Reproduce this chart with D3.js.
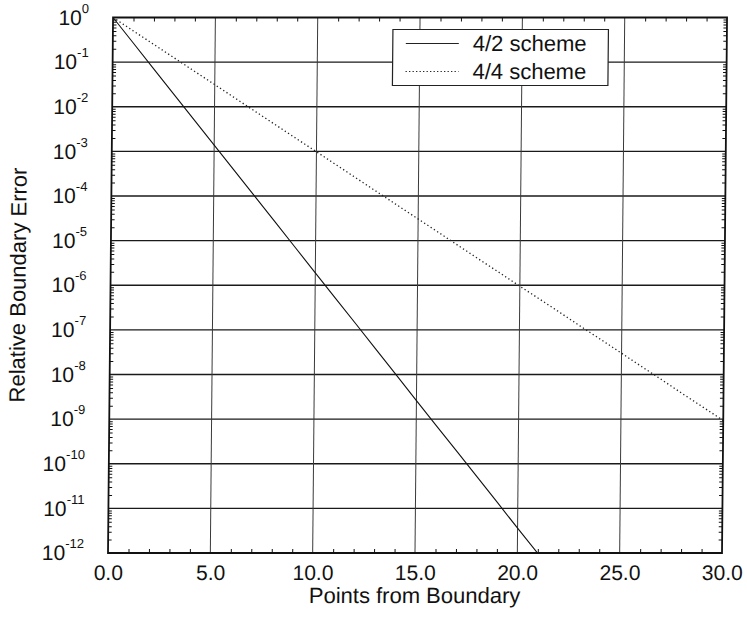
<!DOCTYPE html>
<html>
<head>
<meta charset="utf-8">
<script src="https://cdn.jsdelivr.net/npm/d3@7"></script>
<style>
  body { margin: 0; background: #fff; }
  text { font-family: "Liberation Sans", Arial, Helvetica, sans-serif; fill: #111; }
</style>
</head>
<body>
<svg id="chart" width="747" height="623"></svg>
<script>
// Relative boundary error versus distance (in grid points) from the boundary
const points42 = [0, 1, 2, 3, 4, 5, 6, 7, 8, 9, 10, 11, 12, 13, 14, 15, 16, 17, 18, 19, 20, 21];
const error42 = [1, 2.68e-1, 7.18e-2, 1.92e-2, 5.15e-3, 1.38e-3, 3.70e-4, 9.9e-5, 2.66e-5, 7.1e-6,
                 1.9e-6, 5.1e-7, 1.37e-7, 3.67e-8, 9.8e-9, 2.6e-9, 7.0e-10, 1.9e-10, 5.1e-11, 1.36e-11,
                 3.6e-12, 9.8e-13];
const points44 = [0, 1, 2, 3, 4, 5, 6, 7, 8, 9, 10, 11, 12, 13, 14, 15, 16, 17, 18, 19, 20,
                  21, 22, 23, 24, 25, 26, 27, 28, 29, 30];
const error44 = [1, 5.0e-1, 2.5e-1, 1.25e-1, 6.25e-2, 3.13e-2, 1.56e-2, 7.8e-3, 3.9e-3, 1.95e-3,
                 9.8e-4, 4.9e-4, 2.44e-4, 1.22e-4, 6.1e-5, 3.05e-5, 1.53e-5, 7.6e-6, 3.8e-6, 1.91e-6,
                 9.5e-7, 4.8e-7, 2.4e-7, 1.19e-7, 6.0e-8, 3.0e-8, 1.49e-8, 7.5e-9, 3.7e-9, 1.86e-9,
                 9.3e-10];
const seriesNames = ["4/2 scheme", "4/4 scheme"];
const xTickValues = [0, 5, 10, 15, 20, 25, 30];
const xTickLabels = ["0.0", "5.0", "10.0", "15.0", "20.0", "25.0", "30.0"];
const yDecades = [0, -1, -2, -3, -4, -5, -6, -7, -8, -9, -10, -11, -12];
const xTitle = "Points from Boundary";
const yTitle = "Relative Boundary Error";

const m = { left: 108, right: 722, top: 17.5, bottom: 553 };
const svg = d3.select("#chart");

// whole figure carries a slight slant
const g = svg.append("g")
  .attr("transform", `translate(0,${m.bottom}) skewX(-0.54) translate(0,${-m.bottom})`);

const x = d3.scaleLinear().domain([0, 30]).range([m.left, m.right]);
const y = d3.scaleLog().domain([1e-12, 1]).range([m.bottom, m.top]);

// grid
g.append("g").selectAll("line").data(yDecades.slice(1, -1)).join("line")
  .attr("x1", m.left).attr("x2", m.right)
  .attr("y1", d => y(Math.pow(10, d))).attr("y2", d => y(Math.pow(10, d)))
  .attr("stroke", "#1a1a1a").attr("stroke-width", 1.3);
g.append("g").selectAll("line").data(xTickValues.slice(1, -1)).join("line")
  .attr("x1", d => x(d)).attr("x2", d => x(d))
  .attr("y1", m.top).attr("y2", m.bottom)
  .attr("stroke", "#3a3a3a").attr("stroke-width", 1);

// minor ticks
const minorX = d3.range(0, 31).filter(v => v % 5 !== 0);
const minorY = [];
yDecades.slice(1).forEach(d => { for (let k = 2; k <= 9; k++) minorY.push(k * Math.pow(10, d)); });

function styleAxis(sel) {
  sel.select(".domain").remove();
  sel.selectAll(".tick line").attr("stroke", "#111").attr("stroke-width", 1);
}
g.append("g").attr("transform", `translate(0,${m.bottom})`)
  .call(d3.axisBottom(x).tickValues(minorX).tickSizeInner(-4).tickSizeOuter(0).tickFormat(""))
  .call(styleAxis);
g.append("g").attr("transform", `translate(0,${m.top})`)
  .call(d3.axisTop(x).tickValues(minorX).tickSizeInner(-4).tickSizeOuter(0).tickFormat(""))
  .call(styleAxis);
g.append("g").attr("transform", `translate(${m.left},0)`)
  .call(d3.axisLeft(y).tickValues(minorY).tickSizeInner(-3.5).tickSizeOuter(0).tickFormat(""))
  .call(styleAxis);
g.append("g").attr("transform", `translate(${m.right},0)`)
  .call(d3.axisRight(y).tickValues(minorY).tickSizeInner(-3.5).tickSizeOuter(0).tickFormat(""))
  .call(styleAxis);

// tick labels
const xAxis = g.append("g").attr("transform", `translate(0,${m.bottom})`)
  .call(d3.axisBottom(x).tickValues(xTickValues).tickSize(0).tickPadding(12)
    .tickFormat((d, i) => xTickLabels[i]));
xAxis.select(".domain").remove();
xAxis.selectAll("text").attr("font-size", 21).attr("fill", "#111");

const yAxis = g.append("g").attr("transform", `translate(${m.left},0)`)
  .call(d3.axisLeft(y).tickValues(yDecades.map(d => Math.pow(10, d))).tickSize(0).tickPadding(24)
    .tickFormat(() => ""));
yAxis.select(".domain").remove();
yAxis.selectAll("text").data(yDecades).each(function (d) {
  const t = d3.select(this).attr("font-size", 21).attr("fill", "#111");
  t.text(null);
  t.append("tspan").text("10");
  t.append("tspan").attr("font-size", 13).attr("dy", "-12").text(d === 0 ? "0" : "-" + Math.abs(d));
});

// series
const clip = svg.append("defs").append("clipPath").attr("id", "plotclip")
  .attr("clipPathUnits", "userSpaceOnUse");
clip.append("rect").attr("x", m.left).attr("y", m.top)
  .attr("width", m.right - m.left).attr("height", m.bottom - m.top);

const line = d3.line().x(d => x(d[0])).y(d => y(d[1]));
const lines = g.append("g").attr("clip-path", "url(#plotclip)");
lines.append("path").datum(d3.zip(points42, error42)).attr("d", line)
  .attr("fill", "none").attr("stroke", "#111").attr("stroke-width", 1.1);
lines.append("path").datum(d3.zip(points44, error44)).attr("d", line)
  .attr("fill", "none").attr("stroke", "#222").attr("stroke-width", 1.3)
  .attr("stroke-dasharray", "1.3,2.6");

// frame
g.append("rect").attr("x", m.left).attr("y", m.top)
  .attr("width", m.right - m.left).attr("height", m.bottom - m.top)
  .attr("fill", "none").attr("stroke", "#111").attr("stroke-width", 1.8);

// legend
const lg = g.append("g");
lg.append("rect").attr("x", 388).attr("y", 29.5).attr("width", 215.5).attr("height", 56)
  .attr("fill", "#fff").attr("stroke", "#222").attr("stroke-width", 1.2);
const rows = [{ name: seriesNames[0], dash: null, y: 43.5 }, { name: seriesNames[1], dash: "1.3,2.2", y: 71.5 }];
rows.forEach(r => {
  lg.append("line").attr("x1", 401).attr("x2", 454).attr("y1", r.y).attr("y2", r.y)
    .attr("stroke", "#222").attr("stroke-width", 1.1)
    .attr("stroke-dasharray", r.dash);
  lg.append("text").attr("x", 468).attr("y", r.y + 8).attr("font-size", 22).text(r.name);
});

// axis titles
g.append("text").attr("x", (m.left + m.right) / 2).attr("y", 603)
  .attr("text-anchor", "middle").attr("font-size", 22).text(xTitle);
g.append("text").attr("transform", `translate(23,285) rotate(-90)`)
  .attr("text-anchor", "middle").attr("font-size", 22).text(yTitle);
</script>
</body>
</html>
